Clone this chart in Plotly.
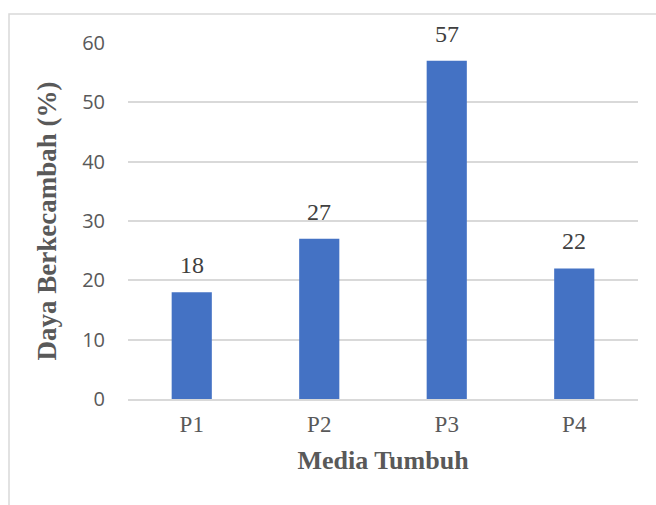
import plotly.graph_objects as go

categories = ["P1", "P2", "P3", "P4"]
values = [18, 27, 57, 22]
y_ticks = [0, 10, 20, 30, 40, 50, 60]

W, H = 656, 505
L, R, T, B = 128, 18, 43, 106

fig = go.Figure()
fig.add_trace(go.Bar(
    x=categories, y=values,
    marker=dict(color="#4472C4", line=dict(width=0)),
    width=0.315,
    cliponaxis=False,
))

for c, v in zip(categories, values):
    fig.add_annotation(x=c, y=v, text=str(v), showarrow=False, yanchor="bottom",
                       yshift=12, font=dict(family="Liberation Serif", size=24, color="#404040"))

fig.update_layout(
    width=W, height=H,
    margin=dict(l=L, r=R, t=T, b=B),
    paper_bgcolor="white", plot_bgcolor="white",
    showlegend=False,
    xaxis=dict(
        showgrid=False, showline=True, linecolor="#D9D9D9", linewidth=1.5,
        ticks="outside", ticklen=4, tickcolor="rgba(0,0,0,0)",
        tickfont=dict(family="Liberation Serif", size=23, color="#595959"),
        title=dict(text="Media Tumbuh", standoff=14,
                   font=dict(family="Liberation Serif", size=26, color="#595959", weight="bold")),
    ),
    yaxis=dict(
        range=[0, 60], tickvals=y_ticks, showgrid=True, gridcolor="#D9D9D9", gridwidth=1.5,
        zeroline=False, showline=False, ticks="outside", ticklen=18, tickcolor="rgba(0,0,0,0)",
        tickfont=dict(family="Open Sans", size=20, color="#595959"),
        title=dict(text="Daya Berkecambah (%)", standoff=17,
                   font=dict(family="Liberation Serif", size=27, color="#595959", weight="bold")),
    ),
    shapes=[dict(type="rect", xref="paper", yref="paper",
                 x0=(9 - L) / (W - L - R), x1=(W + 5 - L) / (W - L - R),
                 y0=-(H + 5 - (H - B)) / (H - T - B), y1=(H - B - 14) / (H - T - B),
                 line=dict(color="#D9D9D9", width=1.5), fillcolor="rgba(0,0,0,0)")],
)

fig.write_html("out.html")
